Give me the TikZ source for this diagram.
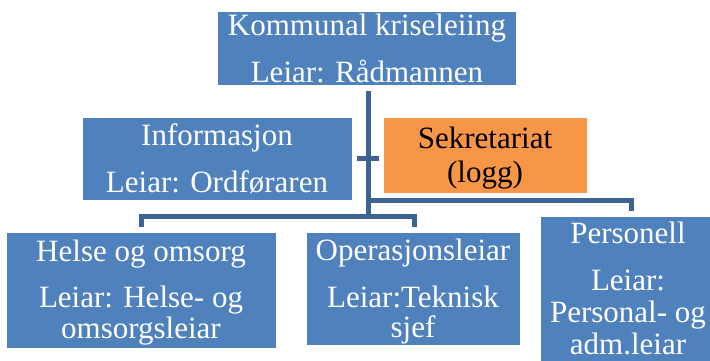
\documentclass[tikz,border=0pt]{standalone}
\usepackage{fontspec}
\setmainfont{Liberation Serif}
\definecolor{boxblue}{RGB}{79,129,189}
\definecolor{boxorange}{RGB}{247,150,70}
\definecolor{lineblue}{RGB}{60,99,148}
\begin{document}
\begin{tikzpicture}[x=1pt,y=-1pt,
  box/.style={fill=boxblue, draw=none, inner sep=0pt, outer sep=0pt, anchor=north west},
  obox/.style={box, fill=boxorange},
  txt/.style={text=white, inner sep=0pt, anchor=base, font=\fontsize{31}{33}\selectfont},
  btxt/.style={txt, text=black},
  conn/.style={draw=lineblue, line width=5pt}]
\useasboundingbox (0,0) rectangle (710,360);
% boxes
\node[box, minimum width=298, minimum height=73] (top) at (218,12) {};
\node[box, minimum width=269, minimum height=82] (info) at (83,118) {};
\node[obox, minimum width=203, minimum height=75] (sekr) at (384,118) {};
\node[box, minimum width=269, minimum height=115] (helse) at (7,233) {};
\node[box, minimum width=213, minimum height=112] (oper) at (307,233) {};
\node[box, minimum width=174, minimum height=150] (pers) at (541,217) {};
% texts
\node[txt] (top1) at (367,35) {Kommunal kriseleiing};
\node[txt] (top2) at (367,82) {Leiar: Rådmannen};
\node[txt] (info1) at (217,145) {Informasjon};
\node[txt] (info2) at (217,192) {Leiar: Ordføraren};
\node[btxt] (sekr1) at (485,148) {Sekretariat};
\node[btxt] (sekr2) at (485,182) {(logg)};
\node[txt] (helse1) at (141,261) {Helse og omsorg};
\node[txt] (helse2) at (141,307) {Leiar: Helse- og};
\node[txt] (helse3) at (141,338) {omsorgsleiar};
\node[txt] (oper1) at (413,260) {Operasjonsleiar};
\node[txt] (oper2) at (413,307) {Leiar:Teknisk};
\node[txt] (oper3) at (413,337) {sjef};
\node[txt] (pers1) at (628,243) {Personell};
\node[txt] (pers2) at (628,290) {Leiar:};
\node[txt] (pers3) at (628,322) {Personal- og};
\node[txt] (pers4) at (628,354) {adm.leiar};
% connector points
\coordinate (trunkTop) at (368,91);
\coordinate (jRight) at (368,200);
\coordinate (jLeft) at (368,216);
\coordinate (stubL) at (357,158);
\coordinate (stubR) at (379,158);
\coordinate (persTop) at (631,211);
\coordinate (helseTop) at (141,227);
\coordinate (operTop) at (414,227);
% connectors
\draw[conn] (stubL) -- (stubR);
\draw[conn] (jRight) -| (persTop);
\draw[conn] (helseTop) |- (jLeft) -| (operTop);
\draw[conn] (trunkTop) -- (jLeft);
\end{tikzpicture}
\end{document}
